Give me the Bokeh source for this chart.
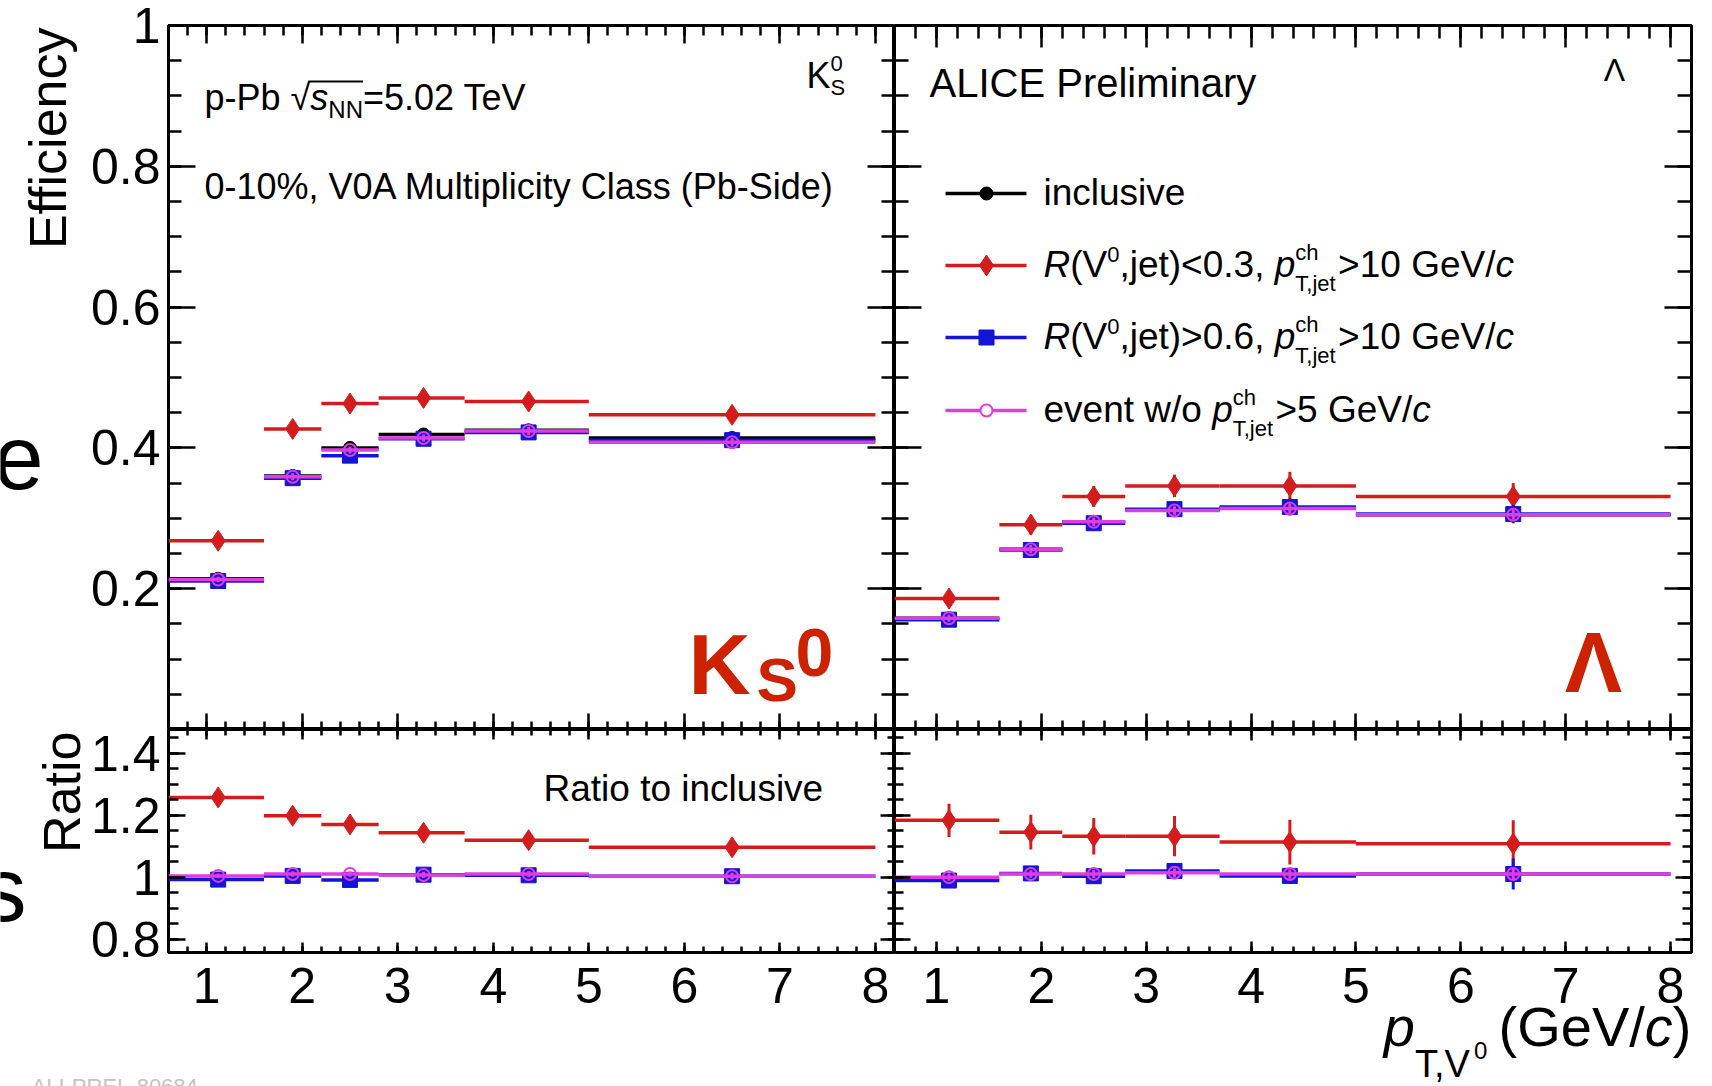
import numpy as np
from bokeh.plotting import figure
from bokeh.models import LinearAxis, FixedTicker, Label, ColumnDataSource, Range1d
from bokeh.layouts import column, row
from bokeh.embed import file_html
from bokeh.resources import INLINE

# ---------------- data ----------------
bin_lo = [0.6, 1.6, 2.2, 2.8, 3.7, 5.0]
bin_hi = [1.6, 2.2, 2.8, 3.7, 5.0, 8.0]
pt_mean = [1.12, 1.90, 2.50, 3.27, 4.37, 6.50]

# K0S efficiency
k0s_incl = [0.214, 0.360, 0.400, 0.419, 0.425, 0.414]
k0s_jc = [0.268, 0.427, 0.463, 0.471, 0.466, 0.447]
k0s_ue = [0.211, 0.357, 0.389, 0.413, 0.422, 0.411]
k0s_nj = [0.213, 0.359, 0.397, 0.414, 0.424, 0.408]
k0s_incl_err = [0.003, 0.004, 0.004, 0.004, 0.004, 0.005]
k0s_jc_err = [0.005, 0.006, 0.007, 0.007, 0.008, 0.009]
k0s_ue_err = [0.004, 0.005, 0.005, 0.005, 0.006, 0.006]
k0s_nj_err = [0.004, 0.005, 0.005, 0.005, 0.006, 0.006]

# Lambda efficiency
lam_incl = [0.158, 0.256, 0.295, 0.312, 0.315, 0.305]
lam_jc = [0.186, 0.291, 0.331, 0.346, 0.346, 0.331]
lam_ue = [0.156, 0.255, 0.293, 0.313, 0.316, 0.306]
lam_nj = [0.158, 0.256, 0.295, 0.311, 0.314, 0.305]
lam_incl_err = [0.004, 0.005, 0.005, 0.005, 0.006, 0.006]
lam_jc_err = [0.012, 0.014, 0.015, 0.016, 0.020, 0.019]
lam_ue_err = [0.009, 0.009, 0.010, 0.011, 0.012, 0.013]
lam_nj_err = [0.005, 0.006, 0.006, 0.006, 0.007, 0.007]

# ratios to inclusive
k0s_r_jc = [1.257, 1.198, 1.170, 1.143, 1.119, 1.096]
k0s_r_ue = [0.992, 1.004, 0.991, 1.008, 1.006, 1.003]
k0s_r_nj = [1.004, 1.010, 1.010, 1.007, 1.010, 1.003]
k0s_r_jc_err = [0.012, 0.015, 0.017, 0.020, 0.024, 0.026]
k0s_r_ue_err = [0.010, 0.012, 0.012, 0.013, 0.014, 0.015]
k0s_r_nj_err = [0.008, 0.009, 0.009, 0.010, 0.010, 0.011]

lam_r_jc = [1.183, 1.145, 1.132, 1.132, 1.113, 1.108]
lam_r_ue = [0.989, 1.012, 1.003, 1.020, 1.004, 1.010]
lam_r_nj = [1.000, 1.010, 1.010, 1.014, 1.010, 1.010]
lam_r_jc_err = [0.054, 0.056, 0.059, 0.065, 0.072, 0.075]
lam_r_ue_err = [0.020, 0.020, 0.022, 0.024, 0.026, 0.050]
lam_r_nj_err = [0.012, 0.012, 0.013, 0.014, 0.015, 0.016]

x_ticks = [1, 2, 3, 4, 5, 6, 7, 8]
x_tick_labels = ["1", "2", "3", "4", "5", "6", "7", "8"]
eff_ticks = [0.2, 0.4, 0.6, 0.8, 1.0]
eff_tick_labels = ["0.2", "0.4", "0.6", "0.8", "1"]
ratio_ticks = [0.8, 1.0, 1.2, 1.4]
ratio_tick_labels = ["0.8", "1", "1.2", "1.4"]

# ---------------- styling / geometry ----------------
RED = "#d41c1c"
BLUE = "#1414d6"
MAG = "#e03ce0"
BLACK = "#000000"
TXT_RED = "#cc2200"
FONT = "Liberation Sans"
BASE_SHIFT = 0.39  # em offset between requested anchor and drawn baseline

X_RANGE = (0.6, 8.2)
EFF_RANGE = (0.0, 1.0)
RAT_RANGE = (0.757, 1.476)

W, H = 1712, 1086
STRIP_L = 86          # left strip width (axis titles, slide letters)
STRIP_B = 964         # top of bottom strip (x tick labels, x title)
LX0, MID, RX1 = 168, 894, 1691
TOP, SPLIT, BOT = 25, 729, 952

PXU_L = (MID - LX0) / (X_RANGE[1] - X_RANGE[0])   # px per unit, left panels
PXU_R = (RX1 - MID) / (X_RANGE[1] - X_RANGE[0])   # px per unit, right panels
BSL_RANGE = (X_RANGE[0] - LX0 / PXU_L, X_RANGE[1])
BSR_RANGE = (X_RANGE[0], X_RANGE[1] + (W - RX1) / PXU_R)

x_minor = [round(0.6 + 0.2 * i, 2) for i in range(39)]
eff_minor = [round(0.05 * i, 3) for i in range(21)]
rat_minor = [round(0.75 + 0.05 * i, 3) for i in range(16)]

# frames in absolute page pixels: (x_left, x_right, y_bottom, y_top, xr, yr)
FRAMES = {
    "tl": (LX0, MID, SPLIT, TOP, X_RANGE, EFF_RANGE),
    "tr": (MID, RX1, SPLIT, TOP, X_RANGE, EFF_RANGE),
    "bl": (LX0, MID, BOT, SPLIT, X_RANGE, RAT_RANGE),
    "br": (MID, RX1, BOT, SPLIT, X_RANGE, RAT_RANGE),
    "ls": (0, STRIP_L, STRIP_B, 0, (0, STRIP_L), (0, STRIP_B)),
    "bsl": (0, MID, H, STRIP_B, BSL_RANGE, (0, H - STRIP_B)),
    "bsr": (MID, W, H, STRIP_B, BSR_RANGE, (0, H - STRIP_B)),
}


def to_data(key, X, Y):
    xl, xr, yb, yt, xr_, yr_ = FRAMES[key]
    dx = xr_[0] + (X - xl) / (xr - xl) * (xr_[1] - xr_[0])
    dy = yr_[0] + (yb - Y) / (yb - yt) * (yr_[1] - yr_[0])
    return dx, dy


def make_fig(key, width, height, bl, br, bt, bb):
    p = figure(width=width, height=height, x_range=X_RANGE,
               y_range=FRAMES[key][5], output_backend="svg",
               toolbar_location=None, x_axis_location=None,
               y_axis_location=None, min_border=0,
               min_border_left=bl, min_border_right=br,
               min_border_top=bt, min_border_bottom=bb)
    p.grid.visible = False
    p.outline_line_color = "black"
    p.outline_line_width = 3
    p.background_fill_color = "white"
    p.border_fill_color = "white"
    return p


def make_strip(key, width, height):
    xr_, yr_ = FRAMES[key][4], FRAMES[key][5]
    p = figure(width=width, height=height, x_range=Range1d(*xr_),
               y_range=Range1d(*yr_), output_backend="svg",
               toolbar_location=None, x_axis_location=None,
               y_axis_location=None, min_border=0)
    p.grid.visible = False
    p.outline_line_color = None
    p.background_fill_color = "white"
    p.border_fill_color = "white"
    return p


def add_axis(p, side, ticks, minor, major_len, minor_len, fixed=None,
             labels=None, standoff=8):
    ax = LinearAxis(ticker=FixedTicker(ticks=ticks, minor_ticks=minor),
                    major_tick_in=major_len, major_tick_out=0,
                    minor_tick_in=minor_len, minor_tick_out=0,
                    axis_line_color=None,
                    major_tick_line_width=2.5, minor_tick_line_width=2.5,
                    major_tick_line_color="black",
                    minor_tick_line_color="black")
    if fixed is not None:
        ax.fixed_location = fixed
    if labels is None:
        ax.major_label_text_color = None
        ax.major_label_standoff = 0
    else:
        ax.major_label_overrides = {t: l for t, l in zip(ticks, labels)}
        ax.major_label_text_font = FONT
        ax.major_label_text_font_size = "50px"
        ax.major_label_text_color = "black"
        ax.major_label_standoff = standoff
    p.add_layout(ax, side)
    return ax


def draw_series(p, y, err, color, marker, size, filled=True):
    src = ColumnDataSource(dict(
        lo=bin_lo, hi=bin_hi, x=pt_mean, y=y,
        ylo=[a - b for a, b in zip(y, err)],
        yhi=[a + b for a, b in zip(y, err)]))
    p.segment(x0="lo", y0="y", x1="hi", y1="y", source=src,
              line_color=color, line_width=3.5)
    p.segment(x0="x", y0="ylo", x1="x", y1="yhi", source=src,
              line_color=color, line_width=3)
    p.scatter(x="x", y="y", source=src, marker=marker, size=size,
              fill_color=color if filled else None,
              line_color=color, line_width=2 if not filled else 1)


# Arial / Helvetica advance widths (1/1000 em)
WID = {' ': 278, '%': 889, '(': 333, ')': 333, ',': 278, '-': 333, '.': 278,
       '/': 278, '<': 584, '=': 584, '>': 584, 'A': 667, 'C': 722, 'E': 667,
       'G': 778, 'I': 278, 'K': 667, 'L': 556, 'M': 833, 'N': 722, 'P': 667,
       'R': 722, 'S': 667, 'T': 611, 'V': 667, 'a': 556, 'b': 556, 'c': 500,
       'd': 556, 'e': 556, 'h': 556, 'i': 222, 'j': 222, 'l': 222, 'm': 833,
       'n': 556, 'o': 556, 'p': 556, 'r': 333, 's': 500, 't': 278, 'u': 556,
       'v': 500, 'w': 722, 'y': 500, '√': 549, 'Λ': 667, '\u2009': 200}


def tw(text, size):
    return sum(WID.get(c, 556) for c in text) * size / 1000.0


def label(p, key, text, X, Y, size, style="normal", color="black",
          align="left", angle=0):
    """(X, Y): absolute page position of the text baseline anchor."""
    if angle == 90:
        X = X - BASE_SHIFT * size
    else:
        Y = Y - BASE_SHIFT * size
    dx_, dy_ = to_data(key, X, Y)
    p.add_layout(Label(x=dx_, y=dy_, text=text, text_font=FONT,
                       text_font_size=f"{size}px", text_font_style=style,
                       text_color=color, text_align=align,
                       text_baseline="alphabetic", angle=angle,
                       angle_units="deg"))


def rich(p, key, pieces, X, Y, color="black"):
    """pieces: (text, size, style, dy, hold); dy>0 raises, dy<0 lowers;
    hold=True stacks the next piece at the same x (sub/superscript pair)."""
    x = X
    held = 0.0
    for text, size, style, dy, hold in pieces:
        label(p, key, text, x, Y - dy, size, style=style, color=color)
        w = tw(text, size)
        if hold:
            held = max(held, w)
        else:
            x += max(w, held)
            held = 0.0
    return x


def rich_width(pieces):
    total, held = 0.0, 0.0
    for text, size, style, dy, hold in pieces:
        w = tw(text, size)
        if hold:
            held = max(held, w)
        else:
            total += max(w, held)
            held = 0.0
    return total


# ---------------- figures ----------------
tl = make_fig("tl", MID - STRIP_L, SPLIT, LX0 - STRIP_L, 0, TOP, 0)
tr = make_fig("tr", W - MID, SPLIT, 0, W - RX1, TOP, 0)
bl = make_fig("bl", MID - STRIP_L, STRIP_B - SPLIT, LX0 - STRIP_L, 0, 0,
              STRIP_B - BOT)
br = make_fig("br", W - MID, STRIP_B - SPLIT, 0, W - RX1, 0, STRIP_B - BOT)
ls = make_strip("ls", STRIP_L, STRIP_B)
bsl = make_strip("bsl", MID, H - STRIP_B)
bsr = make_strip("bsr", W - MID, H - STRIP_B)

# axes: top panels
add_axis(tl, "left", eff_ticks, eff_minor, 27, 13, labels=eff_tick_labels,
         standoff=8)
add_axis(tl, "right", eff_ticks, eff_minor, 27, 13, fixed=X_RANGE[1])
add_axis(tl, "above", x_ticks, x_minor, 18, 10, fixed=EFF_RANGE[1])
add_axis(tl, "below", x_ticks, x_minor, 16, 8, fixed=EFF_RANGE[0])

add_axis(tr, "left", eff_ticks, eff_minor, 27, 14, fixed=X_RANGE[0])
add_axis(tr, "right", eff_ticks, eff_minor, 27, 14, fixed=X_RANGE[1])
add_axis(tr, "above", x_ticks, x_minor, 22, 13, fixed=EFF_RANGE[1])
add_axis(tr, "below", x_ticks, x_minor, 16, 9, fixed=EFF_RANGE[0])

# axes: ratio panels
add_axis(bl, "left", ratio_ticks, rat_minor, 17, 10,
         labels=ratio_tick_labels, standoff=8)
add_axis(bl, "right", ratio_ticks, rat_minor, 14, 7, fixed=X_RANGE[1])
add_axis(bl, "above", x_ticks, x_minor, 10, 6, fixed=RAT_RANGE[1])
add_axis(bl, "below", x_ticks, x_minor, 10, 6, fixed=RAT_RANGE[0])

add_axis(br, "left", ratio_ticks, rat_minor, 16, 9, fixed=X_RANGE[0])
add_axis(br, "right", ratio_ticks, rat_minor, 16, 9, fixed=X_RANGE[1])
add_axis(br, "above", x_ticks, x_minor, 11, 6, fixed=RAT_RANGE[1])
add_axis(br, "below", x_ticks, x_minor, 11, 6, fixed=RAT_RANGE[0])

# x tick labels (drawn in the bottom strips, aligned with the ratio panels)
strip_top = H - STRIP_B
add_axis(bsl, "below", x_ticks, [], 0, 0, fixed=strip_top,
         labels=x_tick_labels, standoff=3)
add_axis(bsr, "below", x_ticks, [], 0, 0, fixed=strip_top,
         labels=x_tick_labels, standoff=3)

# ---------------- data series ----------------
draw_series(tl, k0s_incl, k0s_incl_err, BLACK, "circle", 13)
draw_series(tl, k0s_jc, k0s_jc_err, RED, "diamond", 21)
draw_series(tl, k0s_ue, k0s_ue_err, BLUE, "square", 15)
draw_series(tl, k0s_nj, k0s_nj_err, MAG, "circle", 12, filled=False)

draw_series(tr, lam_incl, lam_incl_err, BLACK, "circle", 13)
draw_series(tr, lam_jc, lam_jc_err, RED, "diamond", 21)
draw_series(tr, lam_ue, lam_ue_err, BLUE, "square", 15)
draw_series(tr, lam_nj, lam_nj_err, MAG, "circle", 12, filled=False)

draw_series(bl, k0s_r_jc, k0s_r_jc_err, RED, "diamond", 21)
draw_series(bl, k0s_r_ue, k0s_r_ue_err, BLUE, "square", 15)
draw_series(bl, k0s_r_nj, k0s_r_nj_err, MAG, "circle", 12, filled=False)

draw_series(br, lam_r_jc, lam_r_jc_err, RED, "diamond", 21)
draw_series(br, lam_r_ue, lam_r_ue_err, BLUE, "square", 15)
draw_series(br, lam_r_nj, lam_r_nj_err, MAG, "circle", 12, filled=False)

# ---------------- texts: left strip ----------------
label(ls, "ls", "Efficiency", 68, 27, 52, align="right", angle=90)
label(ls, "ls", "Ratio", 82, 731, 52, align="right", angle=90)
label(ls, "ls", "e", -7, 492, 90)
label(ls, "ls", "s", -19, 925, 90)

# ---------------- texts: top-left ----------------
ppb_pieces = [("p-Pb ", 36, "normal", 0, False),
              ("√", 36, "normal", 0, False),
              ("s", 36, "italic", 0, False),
              ("NN", 24, "normal", -7, False),
              ("=5.02 TeV", 36, "normal", 0, False)]
rich(tl, "tl", ppb_pieces, 204, 111)
# overline of the square root
ov_x0 = 204 + tw("p-Pb ", 36) + tw("√", 36) - 2
ov_x1 = ov_x0 + tw("s", 36) + tw("NN", 24) + 2
ox0, oy = to_data("tl", ov_x0, 81)
ox1, _ = to_data("tl", ov_x1, 81)
tl.segment(x0=[ox0], y0=[oy], x1=[ox1], y1=[oy], line_color="black",
           line_width=2)
label(tl, "tl", "0-10%, V0A Multiplicity Class (Pb-Side)", 204, 200, 36)
rich(tl, "tl", [("K", 36, "normal", 0, False),
                ("0", 22, "normal", 17, True),
                ("S", 22, "normal", -7, False)], 806, 89)
# big red K_S^0
label(tl, "tl", "K", 688, 697, 86, style="bold", color=TXT_RED)
label(tl, "tl", "S", 756, 703, 62, style="bold", color=TXT_RED)
label(tl, "tl", "0", 795, 679, 68, style="bold", color=TXT_RED)

# ---------------- texts: top-right ----------------
label(tr, "tr", "ALICE Preliminary", 929, 98, 40)
label(tr, "tr", "Λ", 1614, 82, 32, align="center")
label(tr, "tr", "Λ", 1593, 695, 86, style="bold", color=TXT_RED,
      align="center")

# legend (manual, ROOT style)
leg_rows = [193, 265, 337, 410]
leg_styles = [(BLACK, "circle", 13, True), (RED, "diamond", 21, True),
              (BLUE, "square", 15, True), (MAG, "circle", 12, False)]
leg_x0, leg_x1, leg_xm, leg_tx = 945, 1026, 986, 1043
for yy, (col, mk, sz, filled) in zip(leg_rows, leg_styles):
    ax0, ay = to_data("tr", leg_x0, yy)
    ax1, _ = to_data("tr", leg_x1, yy)
    axm, _ = to_data("tr", leg_xm, yy)
    tr.segment(x0=[ax0], y0=[ay], x1=[ax1], y1=[ay], line_color=col,
               line_width=3.5)
    tr.scatter(x=[axm], y=[ay], marker=mk, size=sz,
               fill_color=col if filled else "white", line_color=col,
               line_width=1 if filled else 2)

LS = 37
SS = 22
label(tr, "tr", "inclusive", leg_tx, leg_rows[0] + 13, LS)
rich(tr, "tr", [("R", LS, "italic", 0, False), ("(V", LS, "normal", 0, False),
                ("0", SS, "normal", 15, False),
                (",jet)<0.3, ", LS, "normal", 0, False),
                ("p", LS, "italic", 0, False),
                ("ch", SS, "normal", 17, True),
                ("T,jet", SS, "normal", -14, False),
                (">10 GeV/", LS, "normal", 0, False),
                ("c", LS, "italic", 0, False)], leg_tx, leg_rows[1] + 13)
rich(tr, "tr", [("R", LS, "italic", 0, False), ("(V", LS, "normal", 0, False),
                ("0", SS, "normal", 15, False),
                (",jet)>0.6, ", LS, "normal", 0, False),
                ("p", LS, "italic", 0, False),
                ("ch", SS, "normal", 17, True),
                ("T,jet", SS, "normal", -14, False),
                (">10 GeV/", LS, "normal", 0, False),
                ("c", LS, "italic", 0, False)], leg_tx, leg_rows[2] + 13)
rich(tr, "tr", [("event w/o ", LS, "normal", 0, False),
                ("p", LS, "italic", 0, False),
                ("ch", SS, "normal", 17, True),
                ("T,jet", SS, "normal", -14, False),
                (">5 GeV/", LS, "normal", 0, False),
                ("c", LS, "italic", 0, False)], leg_tx, leg_rows[3] + 13)

# ---------------- texts: ratio panels ----------------
label(bl, "bl", "Ratio to inclusive", 543, 802, 37)

# ---------------- bottom strip: x title, slide id ----------------
xt_pieces = [("p", 56, "italic", 0, False),
             ("T,V", 38, "normal", -30, False),
             ("0", 24, "normal", -11, False),
             ("\u2009", 56, "normal", 0, False),
             ("(GeV/", 56, "normal", 0, False),
             ("c", 56, "italic", 0, False),
             (")", 56, "normal", 0, False)]
rich(bsr, "bsr", xt_pieces, RX1 - rich_width(xt_pieces), 1048)
label(bsl, "bsl", "ALI-PREL-80684", 31, 1095, 22, color="#c4c4c4")

main = column(row(tl, tr, spacing=0), row(bl, br, spacing=0), spacing=0)
layout = column(row(ls, main, spacing=0), row(bsl, bsr, spacing=0),
                spacing=0)
open("out.html", "w").write(file_html(layout, INLINE))
